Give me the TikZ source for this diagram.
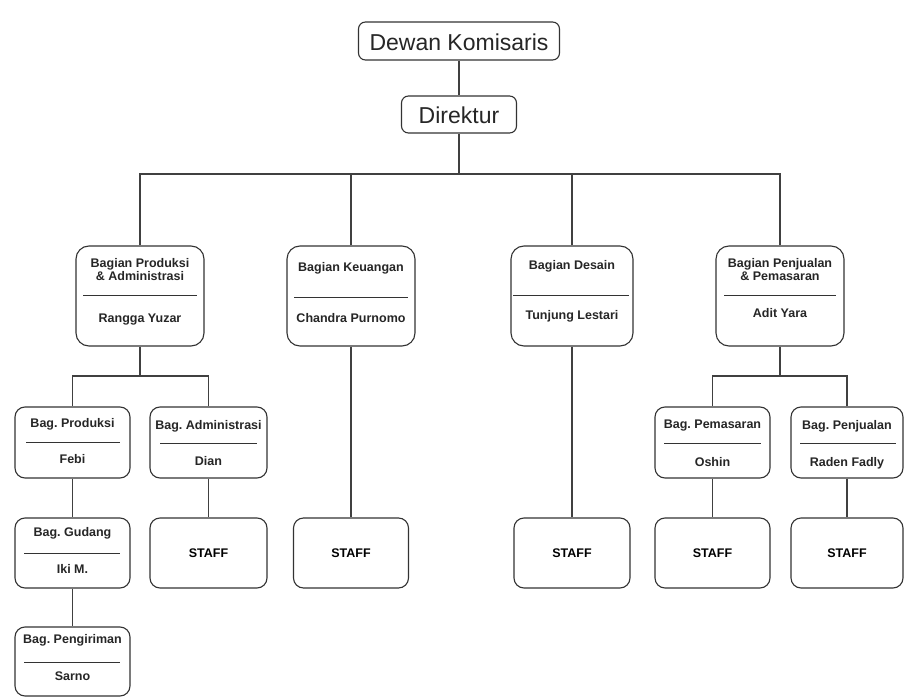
\documentclass[tikz,border=0pt]{standalone}
\usepackage{fontspec}
\setmainfont{Liberation Sans}
\frenchspacing
\begin{document}
\begin{tikzpicture}[x=1pt,y=-1pt,
  box/.style={draw=black!80, line width=1.1pt, fill=white, inner sep=0pt},
  lbl/.style={font=\fontsize{12.5}{13}\selectfont\bfseries, text=black!85, inner sep=0pt, align=center},
  big/.style={font=\fontsize{23}{26}\selectfont, text=black!85, inner sep=0pt},
  conn/.style={draw=black!75, line width=1.1pt},
  div/.style={draw=black!80, line width=1pt}]
\useasboundingbox (0,0) rectangle (905,698);
\fill[white] (0,0) rectangle (905,698);

% top
\node[box, rounded corners=7pt, minimum width=201pt, minimum height=38pt] (dk) at (459,41) {};
\node[big] (dkt) at (459,42) {Dewan Komisaris};
\node[box, rounded corners=7pt, minimum width=115pt, minimum height=37pt] (dir) at (459,114.5) {};
\node[big] (dirt) at (459,115) {Direktur};

% level 1
\node[box, rounded corners=13pt, minimum width=128pt, minimum height=100pt] (b1) at (140,296) {};
\node[lbl] (b1t) at (140,270) {Bagian Produksi\\\& Administrasi};
\draw[div] (83,295) -- (197,295);
\node[lbl] (b1n) at (140,320) {Rangga Yuzar};

\node[box, rounded corners=13pt, minimum width=128pt, minimum height=100pt] (b2) at (351,296) {};
\node[lbl] (b2t) at (351,268) {Bagian Keuangan};
\draw[div] (294,297) -- (408,297);
\node[lbl] (b2n) at (351,318) {Chandra Purnomo};

\node[box, rounded corners=13pt, minimum width=122pt, minimum height=100pt] (b3) at (572,296) {};
\node[lbl] (b3t) at (572,266) {Bagian Desain};
\draw[div] (513,295) -- (629,295);
\node[lbl] (b3n) at (572,316) {Tunjung Lestari};

\node[box, rounded corners=13pt, minimum width=128pt, minimum height=100pt] (b4) at (780,296) {};
\node[lbl] (b4t) at (780,270) {Bagian Penjualan\\\& Pemasaran};
\draw[div] (724,295) -- (836,295);
\node[lbl] (b4n) at (780,313) {Adit Yara};

% level 2
\node[box, rounded corners=10pt, minimum width=115pt, minimum height=71pt] (p1) at (72.5,442.5) {};
\node[lbl] (p1t) at (72.5,424) {Bag. Produksi};
\draw[div] (26,442) -- (120,442);
\node[lbl] (p1n) at (72.5,459) {Febi};

\node[box, rounded corners=10pt, minimum width=117pt, minimum height=71pt] (p2) at (208.5,442.5) {};
\node[lbl] (p2t) at (208.5,426) {Bag. Administrasi};
\draw[div] (160,443) -- (257,443);
\node[lbl] (p2n) at (208.5,461) {Dian};

\node[box, rounded corners=10pt, minimum width=115pt, minimum height=71pt] (r1) at (712.5,442.5) {};
\node[lbl] (r1t) at (712.5,426) {Bag. Pemasaran};
\draw[div] (664,443) -- (761,443);
\node[lbl] (r1n) at (712.5,462) {Oshin};

\node[box, rounded corners=10pt, minimum width=112pt, minimum height=71pt] (r2) at (847,442.5) {};
\node[lbl] (r2t) at (847,426) {Bag. Penjualan};
\draw[div] (800,443) -- (896,443);
\node[lbl] (r2n) at (847,463) {Raden Fadly};

% level 3
\node[box, rounded corners=10pt, minimum width=115pt, minimum height=70pt] (g1) at (72.5,553) {};
\node[lbl] (g1t) at (72.5,533) {Bag. Gudang};
\draw[div] (24,553) -- (120,553);
\node[lbl] (g1n) at (72.5,569) {Iki M.};

\node[box, rounded corners=10pt, minimum width=117pt, minimum height=70pt] (s1) at (208.5,553) {\fontsize{12.5}{13}\selectfont\bfseries STAFF};
\node[box, rounded corners=10pt, minimum width=115pt, minimum height=70pt] (s2) at (351,553) {\fontsize{12.5}{13}\selectfont\bfseries STAFF};
\node[box, rounded corners=10pt, minimum width=116pt, minimum height=70pt] (s3) at (572,553) {\fontsize{12.5}{13}\selectfont\bfseries STAFF};
\node[box, rounded corners=10pt, minimum width=115pt, minimum height=70pt] (s4) at (712.5,553) {\fontsize{12.5}{13}\selectfont\bfseries STAFF};
\node[box, rounded corners=10pt, minimum width=112pt, minimum height=70pt] (s5) at (847,553) {\fontsize{12.5}{13}\selectfont\bfseries STAFF};

% level 4
\node[box, rounded corners=10pt, minimum width=115pt, minimum height=69pt] (k1) at (72.5,661.5) {};
\node[lbl] (k1t) at (72.5,640) {Bag. Pengiriman};
\draw[div] (24,662) -- (120,662);
\node[lbl] (k1n) at (72.5,676) {Sarno};

% connectors
\coordinate (bus0) at (459,174);
\coordinate (busL) at (140,376);
\coordinate (busR) at (780,376);
\draw[conn] (dk.south) -- (dir.north);
\draw[conn] (dir.south) -- (bus0);
\foreach \n in {b1,b2,b3,b4} \draw[conn] (\n.north) |- (bus0);
\draw[conn] (b1.south) -- (busL);
\draw[conn] (p1.north) |- (busL);
\draw[conn] (p2.north) |- (busL);
\draw[conn] (b4.south) -- (busR);
\draw[conn] (r1.north) |- (busR);
\draw[conn] (r2.north) |- (busR);
\draw[conn] (p1.south) -- (g1.north);
\draw[conn] (g1.south) -- (k1.north);
\draw[conn] (p2.south) -- (s1.north);
\draw[conn] (b2.south) -- (s2.north);
\draw[conn] (b3.south) -- (s3.north);
\draw[conn] (r1.south) -- (s4.north);
\draw[conn] (r2.south) -- (s5.north);
\end{tikzpicture}
\end{document}
